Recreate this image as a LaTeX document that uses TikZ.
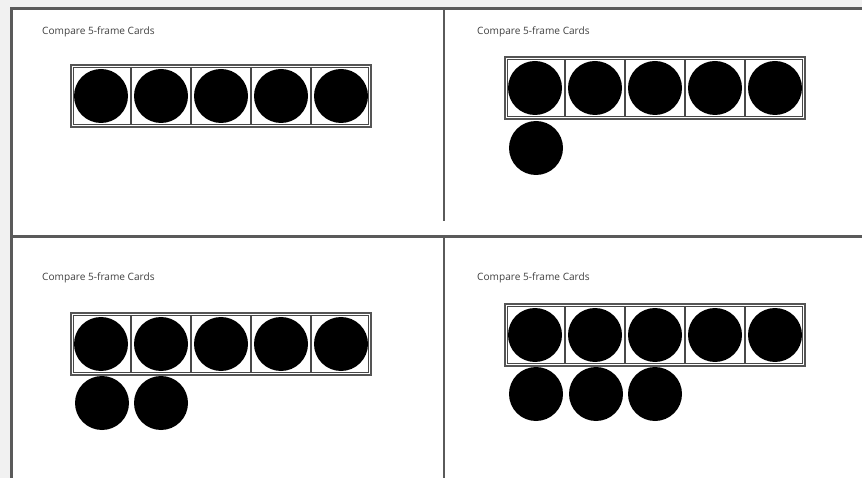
\documentclass[tikz,border=0pt]{standalone}
\usepackage{fontspec}
\newfontfamily\cardfont{Open Sans}
\definecolor{bggray}{HTML}{F1F1F1}
\definecolor{rulegray}{HTML}{5A5A5A}
\definecolor{txtgray}{HTML}{404040}
\definecolor{framegray}{HTML}{555555}
\tikzset{
  title/.style={anchor=west, inner sep=0pt, text=txtgray, font=\cardfont\fontsize{10.1}{12}\selectfont},
  sheetrule/.style={rulegray, line width=2.6pt},
  counter/.style={fill=black},
  fiveframe/.pic={
    \draw[framegray, line width=1.1pt] (0,0) rectangle (300,62);
    \draw[framegray!85!black, line width=1pt] (2.4,2.4) rectangle (297.6,59.6);
    \foreach \i in {1,...,4} \draw[framegray!85!black, line width=1.2pt] (\i*60,2.4) -- (\i*60,59.6);
    \foreach \i in {0,...,4} \fill[counter] (30+\i*60,31) circle[radius=27pt];
  }
}
\begin{document}
\begin{tikzpicture}[x=1pt,y=-1pt]
\useasboundingbox (0,0) rectangle (862,478);
\fill[bggray] (0,0) rectangle (862,478);
\fill[white] (12,8.5) rectangle (862,478);
% sheet rules
\draw[sheetrule, line width=3pt] (11.5,478) -- (11.5,8.5) -- (862,8.5);
\draw[sheetrule] (444,8.5) -- (444,221);
\draw[sheetrule] (444,236.5) -- (444,478);
\draw[sheetrule] (11.5,236.5) -- (862,236.5);
% titles
\node[title] (t1) at (42,31.5) {Compare 5-frame Cards};
\node[title] (t2) at (477,31.5) {Compare 5-frame Cards};
\node[title] (t3) at (42,277.5) {Compare 5-frame Cards};
\node[title] (t4) at (477,277.5) {Compare 5-frame Cards};
% frames
\pic at (71,65) {fiveframe};
\pic at (505,57) {fiveframe};
\pic at (71,313) {fiveframe};
\pic at (505,304) {fiveframe};
% extra counters
\fill[counter] (536,148) circle[radius=27pt];
\fill[counter] (102,403) circle[radius=27pt];
\fill[counter] (161,403) circle[radius=27pt];
\fill[counter] (536,394) circle[radius=27pt];
\fill[counter] (596,394) circle[radius=27pt];
\fill[counter] (655,394) circle[radius=27pt];
\end{tikzpicture}
\end{document}
